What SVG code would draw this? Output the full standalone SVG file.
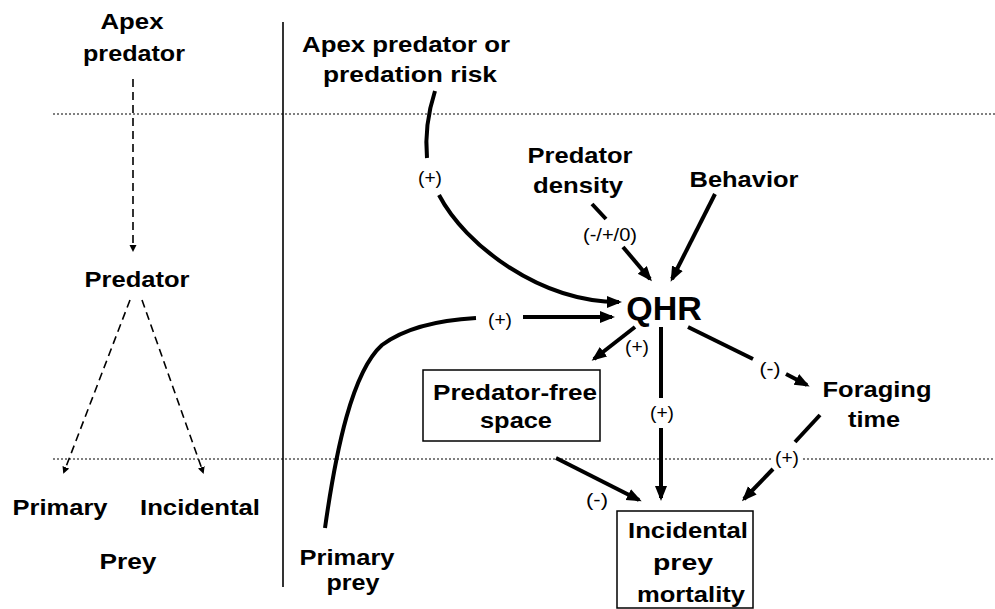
<svg xmlns="http://www.w3.org/2000/svg" width="995" height="609" viewBox="0 0 995 609">
<style>
.t{font-family:"Liberation Sans",Arial,sans-serif;font-weight:bold;font-size:22px;text-anchor:middle;fill:#000}
.q{font-family:"Liberation Sans",Arial,sans-serif;font-weight:bold;font-size:34px;text-anchor:middle;fill:#000}
.l{font-family:"Liberation Sans",Arial,sans-serif;font-size:18px;text-anchor:middle;fill:#000}
.c{fill:none;stroke:#000;stroke-width:4}
.d{fill:none;stroke:#000;stroke-width:1.6;stroke-dasharray:8 5}
.dot{fill:none;stroke:#000;stroke-width:1;stroke-dasharray:2 2}
.box{fill:#fff;stroke:#000;stroke-width:1.5}
</style>
<defs>
<marker id="ah" markerUnits="userSpaceOnUse" markerWidth="16" markerHeight="14" refX="12" refY="6" orient="auto"><path d="M0,0 L15,6 L0,12 z" fill="#000"/></marker>
<marker id="sh" markerUnits="userSpaceOnUse" markerWidth="9" markerHeight="9" refX="5" refY="3.5" orient="auto"><path d="M0,0 L7,3.5 L0,7 z" fill="#000"/></marker>
</defs>
<rect width="995" height="609" fill="#fff"/>
<g id="guides">
<line class="dot" x1="53" y1="114" x2="995" y2="114"/>
<line class="dot" x1="53" y1="459" x2="772" y2="459"/>
<line class="dot" x1="803" y1="459" x2="995" y2="459"/>
<line x1="283" y1="22" x2="283" y2="587" stroke="#000" stroke-width="1.6"/>
</g>
<g id="connectors">
<line class="d" x1="133" y1="79" x2="133" y2="250" marker-end="url(#sh)"/>
<line class="d" x1="130" y1="300" x2="64" y2="472" marker-end="url(#sh)"/>
<line class="d" x1="142" y1="300" x2="203" y2="472" marker-end="url(#sh)"/>
<path class="c" d="M435 91 Q424 125 427 158"/>
<path class="c" d="M439 195 C465 245 540 302 619 302" marker-end="url(#ah)"/>
<path class="c" d="M325 528 C336 450 352 372 382 345 C405 328 440 320 476 318"/>
<line class="c" x1="523" y1="317" x2="612" y2="317" marker-end="url(#ah)"/>
<line class="c" x1="592" y1="204" x2="606" y2="219"/>
<line class="c" x1="623" y1="247" x2="650" y2="279" marker-end="url(#ah)"/>
<line class="c" x1="715" y1="194" x2="672" y2="279" marker-end="url(#ah)"/>
<line class="c" x1="635" y1="327" x2="594" y2="359" marker-end="url(#ah)"/>
<line class="c" x1="661" y1="327" x2="661" y2="398"/>
<line class="c" x1="661" y1="428" x2="661" y2="498" marker-end="url(#ah)"/>
<line class="c" x1="688" y1="327" x2="753" y2="359"/>
<line class="c" x1="786" y1="374" x2="807" y2="385" marker-end="url(#ah)"/>
<line class="c" x1="820" y1="415" x2="795" y2="442"/>
<line class="c" x1="773" y1="469" x2="744" y2="499" marker-end="url(#ah)"/>
<line class="c" x1="556" y1="458" x2="639" y2="500" marker-end="url(#ah)"/>
<text class="l" x="430" y="184" textLength="24" lengthAdjust="spacingAndGlyphs">(+)</text>
<text class="l" x="500" y="326" textLength="24" lengthAdjust="spacingAndGlyphs">(+)</text>
<text class="l" x="610" y="241" textLength="54" lengthAdjust="spacingAndGlyphs">(-/+/0)</text>
<text class="l" x="637" y="353" textLength="24" lengthAdjust="spacingAndGlyphs">(+)</text>
<text class="l" x="662" y="419" textLength="24" lengthAdjust="spacingAndGlyphs">(+)</text>
<text class="l" x="770" y="375" textLength="21" lengthAdjust="spacingAndGlyphs">(-)</text>
<text class="l" x="787" y="464" textLength="24" lengthAdjust="spacingAndGlyphs">(+)</text>
<text class="l" x="597" y="506" textLength="22" lengthAdjust="spacingAndGlyphs">(-)</text>
</g>
<g id="apex-left"><text class="t" x="132" y="29" textLength="63" lengthAdjust="spacingAndGlyphs">Apex</text><text class="t" x="134" y="61" textLength="102" lengthAdjust="spacingAndGlyphs">predator</text></g>
<g id="predator-left"><text class="t" x="137" y="287" textLength="105" lengthAdjust="spacingAndGlyphs">Predator</text></g>
<g id="primary-left"><text class="t" x="60" y="515" textLength="95" lengthAdjust="spacingAndGlyphs">Primary</text></g>
<g id="incidental-left"><text class="t" x="200" y="515" textLength="120" lengthAdjust="spacingAndGlyphs">Incidental</text></g>
<g id="prey-left"><text class="t" x="128" y="569" textLength="57" lengthAdjust="spacingAndGlyphs">Prey</text></g>
<g id="apex-right"><text class="t" x="406" y="52" textLength="208" lengthAdjust="spacingAndGlyphs">Apex predator or</text><text class="t" x="410" y="82" textLength="174" lengthAdjust="spacingAndGlyphs">predation risk</text></g>
<g id="density"><text class="t" x="580" y="163" textLength="105" lengthAdjust="spacingAndGlyphs">Predator</text><text class="t" x="578" y="193" textLength="90" lengthAdjust="spacingAndGlyphs">density</text></g>
<g id="behavior"><text class="t" x="744" y="187" textLength="109" lengthAdjust="spacingAndGlyphs">Behavior</text></g>
<g id="qhr"><text class="q" x="664" y="320">QHR</text></g>
<g id="pfs"><rect class="box" x="423" y="370" width="177" height="71"/><text class="t" x="515" y="400" textLength="164" lengthAdjust="spacingAndGlyphs">Predator-free</text><text class="t" x="516" y="428" textLength="72" lengthAdjust="spacingAndGlyphs">space</text></g>
<g id="foraging"><text class="t" x="877" y="397" textLength="109" lengthAdjust="spacingAndGlyphs">Foraging</text><text class="t" x="874" y="427" textLength="52" lengthAdjust="spacingAndGlyphs">time</text></g>
<g id="mortality"><rect class="box" x="617" y="511" width="136" height="97"/><text class="t" x="688" y="538" textLength="120" lengthAdjust="spacingAndGlyphs">Incidental</text><text class="t" x="683" y="570" textLength="60" lengthAdjust="spacingAndGlyphs">prey</text><text class="t" x="691" y="602" textLength="108" lengthAdjust="spacingAndGlyphs">mortality</text></g>
<g id="primary-prey"><text class="t" x="347" y="565" textLength="95" lengthAdjust="spacingAndGlyphs">Primary</text><text class="t" x="353" y="590" textLength="53" lengthAdjust="spacingAndGlyphs">prey</text></g>
</svg>
